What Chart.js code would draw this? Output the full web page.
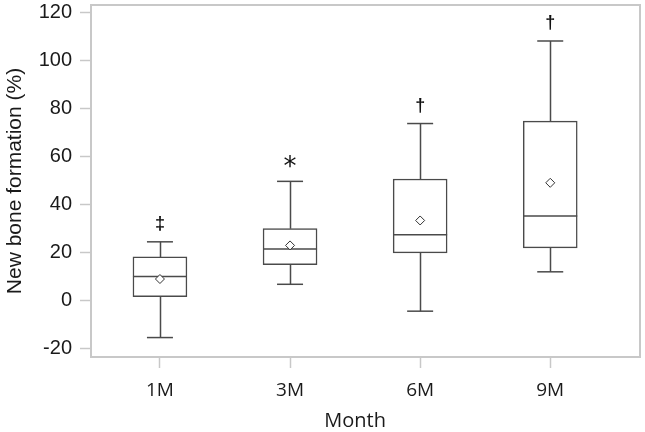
<!DOCTYPE html>
<html>
<head>
<meta charset="utf-8">
<script src="https://cdn.jsdelivr.net/npm/chart.js@4"></script>
<style>
  html, body { margin: 0; padding: 0; background: #fff; }
  #wrap { width: 645px; height: 432px; }
</style>
</head>
<body>
<div id="wrap"><canvas id="chart" width="645" height="432"></canvas></div>
<script>
// box plot values
const labels = ['1M', '3M', '6M', '9M'];
const whiskerLow = [-15.6, 6.6, -4.6, 11.8];
const q1 = [1.4, 14.8, 19.7, 21.8];
const median = [9.8, 21.3, 27.2, 35.1];
const q3 = [18, 29.8, 50.5, 74.6];
const whiskerHigh = [24.3, 49.5, 73.6, 108];
const mean = [8.8, 22.8, 33.2, 48.9];
const marks = ['‡', '*', '†', '†'];
const yTicks = [-20, 0, 20, 40, 60, 80, 100, 120];

const lineColor = '#4a4a4a';
const frameColor = '#c8c8c8';

const pts = arr => arr.map((v, i) => ({ x: i, y: v }));

// keep the plot frame where the reference has it
const noPad = s => {
  s.paddingTop = 0; s.paddingBottom = 0; s.paddingLeft = 0; s.paddingRight = 0;
};

// whisker stems, frame, significance marks and x title
const boxExtras = {
  id: 'boxExtras',
  beforeDatasetsDraw(chart) {
    const { ctx } = chart;
    const x = chart.scales.x, y = chart.scales.y;
    ctx.save();
    ctx.strokeStyle = lineColor;
    ctx.lineWidth = 1.5;
    labels.forEach((l, i) => {
      const px = Math.round(x.getPixelForValue(i)) + 0.5;
      ctx.beginPath();
      ctx.moveTo(px, y.getPixelForValue(q3[i]));
      ctx.lineTo(px, y.getPixelForValue(whiskerHigh[i]));
      ctx.moveTo(px, y.getPixelForValue(q1[i]));
      ctx.lineTo(px, y.getPixelForValue(whiskerLow[i]));
      ctx.stroke();
    });
    ctx.restore();
  },
  afterDatasetsDraw(chart) {
    const { ctx, chartArea } = chart;
    const x = chart.scales.x, y = chart.scales.y;
    ctx.save();
    ctx.strokeStyle = frameColor;
    ctx.lineWidth = 2;
    ctx.strokeRect(chartArea.left, chartArea.top, chartArea.right - chartArea.left, chartArea.bottom - chartArea.top);

    ctx.fillStyle = '#111';
    ctx.textAlign = 'center';
    ctx.textBaseline = 'middle';
    labels.forEach((l, i) => {
      const px = x.getPixelForValue(i);
      const py = y.getPixelForValue(whiskerHigh[i]) - 18;
      if (marks[i] === '*') {
        ctx.font = '26px "DejaVu Sans"';
        ctx.fillText(marks[i], px, py + 5);
      } else {
        ctx.font = 'bold 18px "Liberation Sans"';
        ctx.fillText(marks[i], px, py);
      }
    });

    ctx.font = '20px "Open Sans"';
    ctx.fillStyle = '#1a1a1a';
    ctx.textBaseline = 'alphabetic';
    const mid = (x.getPixelForValue(0) + x.getPixelForValue(labels.length - 1)) / 2;
    ctx.fillText('Month', mid, 427);
    ctx.restore();
  }
};

new Chart(document.getElementById('chart'), {
  type: 'bar',
  data: {
    datasets: [
      {
        type: 'bar',
        data: labels.map((l, i) => ({ x: i, y: [q1[i], q3[i]] })),
        backgroundColor: '#ffffff',
        borderColor: lineColor,
        borderWidth: 1.5,
        borderSkipped: false,
        barThickness: 54,
        order: 3
      },
      {
        type: 'scatter',
        data: pts(median),
        pointStyle: 'line',
        radius: 27,
        borderColor: lineColor,
        borderWidth: 1.5,
        order: 2
      },
      {
        type: 'scatter',
        data: pts(whiskerHigh),
        pointStyle: 'line',
        radius: 13,
        borderColor: lineColor,
        borderWidth: 1.5,
        order: 2
      },
      {
        type: 'scatter',
        data: pts(whiskerLow),
        pointStyle: 'line',
        radius: 13,
        borderColor: lineColor,
        borderWidth: 1.5,
        order: 2
      },
      {
        type: 'scatter',
        data: pts(mean),
        pointStyle: 'rectRot',
        radius: 4.5,
        backgroundColor: '#ffffff',
        borderColor: '#333',
        borderWidth: 1,
        order: 1
      }
    ]
  },
  options: {
    responsive: false,
    animation: false,
    layout: { autoPadding: false, padding: { top: 5, right: 5, left: 0, bottom: 0 } },
    plugins: { legend: { display: false }, tooltip: { enabled: false } },
    scales: {
      x: {
        type: 'linear',
        min: -0.53,
        max: 3.69,
        offset: false,
        afterBuildTicks: s => { s.ticks = labels.map((l, i) => ({ value: i })); },
        afterFit: s => { s.height = 75; noPad(s); },
        grid: { offset: false, drawOnChartArea: false, color: frameColor, tickLength: 11, tickWidth: 1.5 },
        border: { display: false },
        ticks: {
          callback: v => labels[v],
          font: { family: '"Open Sans"', size: 19 },
          color: '#1a1a1a',
          padding: 11,
          maxRotation: 0
        }
      },
      y: {
        min: -23.7,
        max: 123,
        afterBuildTicks: s => { s.ticks = yTicks.map(v => ({ value: v })); },
        afterFit: s => { s.width = 91; noPad(s); },
        grid: { drawOnChartArea: false, color: frameColor, tickLength: 11, tickWidth: 1.5 },
        border: { display: false },
        ticks: {
          font: { family: '"Liberation Sans"', size: 20 },
          color: '#1a1a1a',
          padding: 8
        },
        title: {
          display: true,
          text: 'New bone formation (%)',
          font: { family: '"Liberation Sans"', size: 21 },
          color: '#1a1a1a',
          padding: { top: 3, bottom: 0 }
        }
      }
    }
  },
  plugins: [boxExtras]
});
</script>
</body>
</html>
